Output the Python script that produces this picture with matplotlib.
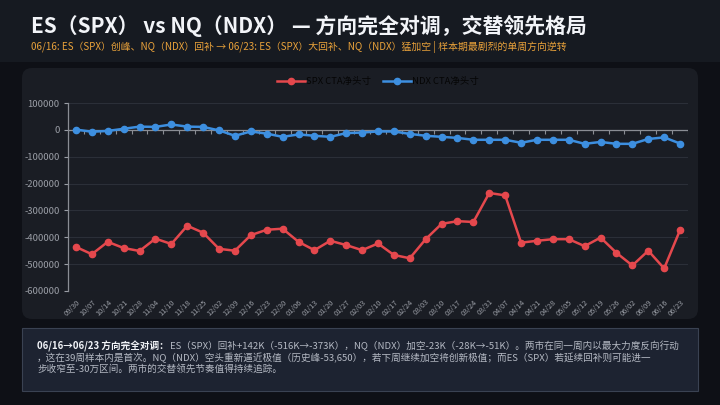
import matplotlib
matplotlib.use("Agg")
import matplotlib.pyplot as plt
from matplotlib.patches import FancyBboxPatch, Rectangle
import numpy as np

plt.rcParams['font.family'] = ['Noto Sans CJK SC', 'DejaVu Sans']

dates = ["09/30", "10/07", "10/14", "10/21", "10/28", "11/04", "11/10", "11/18", "11/25",
         "12/02", "12/09", "12/16", "12/23", "12/30", "01/06", "01/13", "01/20", "01/27",
         "02/03", "02/10", "02/17", "02/24", "03/03", "03/10", "03/17", "03/24", "03/31",
         "04/07", "04/14", "04/21", "04/28", "05/05", "05/12", "05/19", "05/26", "06/02",
         "06/09", "06/16", "06/23"]

spx = [-436000, -463000, -417000, -440000, -451000, -405000, -425000, -357000, -383000,
       -443000, -450000, -392000, -372000, -368000, -417000, -448000, -413000, -429000,
       -448000, -423000, -466000, -478000, -407000, -350000, -340000, -343000, -235000,
       -244000, -420000, -413000, -407000, -407000, -433000, -401000, -458000, -505000,
       -450000, -516000, -373000]

ndx = [1000, -7000, -4000, 4000, 12000, 11000, 20000, 12000, 11000,
       -2000, -22000, -6000, -14000, -26000, -17000, -22000, -26000, -12000,
       -10000, -6000, -6000, -15000, -22000, -26000, -30000, -37000, -37000,
       -37000, -48000, -37000, -37000, -37000, -52000, -45000, -52000, -52000,
       -34000, -28000, -51000]

yticks = [100000, 0, -100000, -200000, -300000, -400000, -500000, -600000]

title = "ES（SPX） vs NQ（NDX） — 方向完全对调，交替领先格局"
subtitle = "06/16: ES（SPX）创峰、NQ（NDX）回补 → 06/23: ES（SPX）大回补、NQ（NDX）猛加空 | 样本期最剧烈的单周方向逆转"
note_bold = "06/16→06/23 方向完全对调："
note_line1 = "ES（SPX）回补+142K（-516K→-373K），NQ（NDX）加空-23K（-28K→-51K）。两市在同一周内以最大力度反向行动"
note_line2 = "，这在39周样本内是首次。NQ（NDX）空头重新逼近极值（历史峰-53,650），若下周继续加空将创新极值；而ES（SPX）若延续回补则可能进一"
note_line3 = "步收窄至-30万区间。两市的交替领先节奏值得持续追踪。"

W, H = 720, 405
fig = plt.figure(figsize=(7.2, 4.05), dpi=100)
fig.patch.set_facecolor('#0e1016')

bg = fig.add_axes([0, 0, 1, 1])
bg.set_xlim(0, W)
bg.set_ylim(H, 0)
bg.axis('off')
bg.add_patch(Rectangle((0, 0), W, 62, facecolor='#161a21', edgecolor='none'))
bg.add_patch(FancyBboxPatch((22, 68), 676, 251, boxstyle="round,pad=0,rounding_size=10",
                            facecolor='#1a1d24', edgecolor='none'))
bg.add_patch(Rectangle((22, 328), 676, 63, facecolor='#1d2331', edgecolor='#3a4252', linewidth=0.8))

bg.text(31, 26, title, color='#f2f4f8', fontsize=15, fontweight='bold', va='center', ha='left')
bg.text(31, 47, subtitle, color='#e8a13a', fontsize=7.1, va='center', ha='left')

# footer note
fs = 6.9
fig.canvas.draw()
r = fig.canvas.get_renderer()
tb = bg.text(37, 346, note_bold, color='#f2f4f8', fontsize=fs, fontweight='bold', va='center', ha='left')
bb = tb.get_window_extent(renderer=r)
x_after = bb.x1
bg.text(x_after + 1, 346, note_line1, color='#b4b9c3', fontsize=fs, va='center', ha='left')
bg.text(37, 357.5, note_line2, color='#b4b9c3', fontsize=fs, va='center', ha='left')
bg.text(37, 369, note_line3, color='#b4b9c3', fontsize=fs, va='center', ha='left')

# main chart
ax = fig.add_axes([68 / W, 1 - 291 / H, 620 / W, (291 - 103) / H])
ax.set_facecolor('none')
x = np.arange(len(dates))
ax.set_xlim(-0.5, len(dates) - 0.5)
ax.set_ylim(-600000, 100000)

for yv in yticks:
    if yv != 0:
        ax.axhline(yv, color='#2b2f38', linewidth=0.8, zorder=0)
ax.axhline(0, color='#8a8d94', linewidth=0.9, zorder=1)
ax.vlines(np.arange(-0.5, len(dates)), -14000, 0, color='#8a8d94', linewidth=0.8, zorder=1)

red = '#e5484d'
blue = '#3d8fe0'
ax.plot(x, spx, color=red, linewidth=1.8, marker='o', markersize=4.5, label='SPX CTA净头寸', zorder=3)
ax.plot(x, ndx, color=blue, linewidth=1.8, marker='o', markersize=4.5, label='NDX CTA净头寸', zorder=3)

ax.set_yticks(yticks)
ax.set_yticklabels([str(v) for v in yticks])
ax.set_xticks(x)
ax.set_xticklabels(dates, rotation=45, ha='right', rotation_mode='anchor')
ax.tick_params(axis='x', length=0, labelsize=5.3, colors='#9a9ea6', pad=5)
ax.tick_params(axis='y', length=3, labelsize=6.8, colors='#9a9ea6', width=0.8, pad=3)
for s in ['top', 'right', 'bottom']:
    ax.spines[s].set_visible(False)
ax.spines['left'].set_color('#8a8d94')
ax.spines['left'].set_linewidth(0.9)

leg = ax.legend(loc='lower center', bbox_to_anchor=(0.5, 1.045), ncol=2, frameon=False,
                fontsize=6.8, handlelength=3.0, columnspacing=1.2, handletextpad=0.1,
                labelcolor='#050505')

fig.savefig('out.png', dpi=100, facecolor=fig.get_facecolor())
